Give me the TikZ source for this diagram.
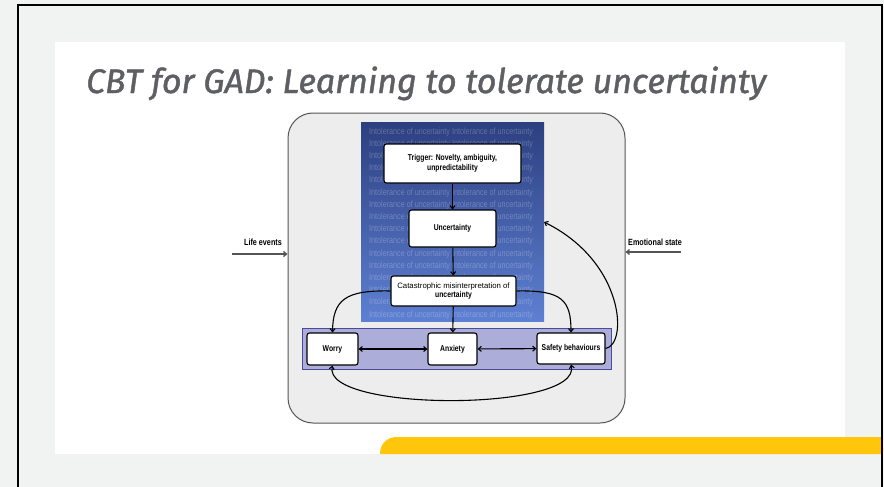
\documentclass[tikz,border=0pt]{standalone}
\usepackage{fontspec}
\setmainfont{Liberation Sans}
\newfontfamily\titlefont[FakeBold=1.3]{Fira Sans}
\newfontfamily\narrowfont[FakeStretch=0.8]{Liberation Sans}
\usetikzlibrary{arrows.meta}

\definecolor{slidebg}{HTML}{F1F2F2}
\definecolor{titlegray}{HTML}{5E5F63}
\definecolor{bandyellow}{HTML}{FFC60B}
\definecolor{panelfill}{HTML}{EDEDED}
\definecolor{paneledge}{HTML}{555555}
\definecolor{bluetop}{HTML}{2C3F80}
\definecolor{bluebottom}{HTML}{5E80D2}
\definecolor{bandfill}{HTML}{ADADDA}
\definecolor{bandedge}{HTML}{4A4A9C}

\tikzset{
  stepbox/.style={draw=black, line width=1.1pt, fill=white, rounded corners=2.5pt,
    align=center, inner sep=1pt, font=\narrowfont\fontsize{8.5}{9.5}\selectfont\bfseries},
  flow/.style={draw=black, line width=1.1pt, -{Straight Barb[length=3pt,width=5pt]}},
  twoway/.style={draw=black, line width=1.1pt, {Straight Barb[length=3pt,width=5pt]}-{Straight Barb[length=3pt,width=5pt]}},
  inflow/.style={draw=paneledge, line width=1.3pt, -{Straight Barb[length=3pt,width=5pt]}},
  sidelabel/.style={font=\narrowfont\fontsize{9}{10}\selectfont\bfseries, inner sep=0pt},
  bgword/.style={anchor=base west, inner sep=0pt, text=white, text opacity=0.25,
    font=\narrowfont\fontsize{9}{10}\selectfont}
}

\begin{document}
\begin{tikzpicture}[x=1pt,y=-1pt]
\useasboundingbox (0,0) rectangle (884,487);

% slide background, white content area and yellow footer band
\fill[slidebg] (0,0) rectangle (884,487);
\fill[white] (55,42) rectangle (845,454);
\fill[bandyellow] (380,454) .. controls (380,444) and (387,437) .. (397,437)
  -- (881,437) -- (881,454) -- cycle;
\draw[black, line width=2.5pt] (18,487) -- (18,5) -- (882,5) -- (882,487);

% title
\node[anchor=base west, inner sep=0pt, text=titlegray,
  font=\titlefont\itshape\fontsize{34}{38}\selectfont] (title) at (86,93)
  {CBT for GAD: Learning to tolerate uncertainty};

% outer rounded panel
\node[draw=paneledge, fill=panelfill, line width=1pt, rounded corners=25pt,
  minimum width=337pt, minimum height=310pt, inner sep=0pt] (frame) at (456.5,268) {};

% blue field with repeated background wording
\shade[top color=bluetop, bottom color=bluebottom] (361,122) rectangle (544,321);
\begin{scope}
  \clip (361,122) rectangle (544,321);
  \foreach \i in {0,...,15}
    \node[bgword] (bg\i) at (369,134+12.2*\i)
      {Intolerance of uncertainty Intolerance of uncertainty};
\end{scope}
\coordinate (iuedge) at (544,222);

% lower band holding the three reactions
\draw[fill=bandfill, draw=bandedge, line width=1pt] (302,328) rectangle (611,369);

% boxes
\node[stepbox, minimum width=137pt, minimum height=39pt] (trigger) at (452.5,163.5)
  {Trigger: Novelty, ambiguity,\\unpredictability};
\node[stepbox, minimum width=87pt, minimum height=37pt] (unc) at (452.5,228.5)
  {Uncertainty};
\node[stepbox, minimum width=125pt, minimum height=30pt] (cat) at (453.5,291)
  {{\rmfamily\mdseries\fontsize{7.8}{9.5}\selectfont Catastrophic misinterpretation of}\\uncertainty};
\node[stepbox, minimum width=51pt, minimum height=32pt] (worry) at (332.5,349) {Worry};
\node[stepbox, minimum width=49pt, minimum height=32pt] (anx) at (452.5,349) {Anxiety};
\node[stepbox, minimum width=68pt, minimum height=31pt] (safe) at (571,348.5) {Safety behaviours};

% connectors
\draw[flow] (trigger) -- (unc);
\draw[flow] (unc) -- (cat);
\draw[flow] (cat) -- (anx);
\draw[flow] (cat.west) .. controls (345,290) and (333,300) .. (worry.north);
\draw[flow] (cat.east) .. controls (562,290) and (571,300) .. (safe.north);
\draw[twoway] (worry) -- (anx);
\draw[twoway] (anx) -- (safe);
\draw[twoway] (worry.south) .. controls (322,412) and (582,412) .. (safe.south);
\draw[flow] (safe.east) .. controls (628,345) and (625,262) .. (iuedge);

% outside influences
\coordinate (lifestart) at (232,254);
\coordinate (emostart) at (681,252);
\draw[inflow] (lifestart) -- (lifestart -| frame.west);
\draw[inflow] (emostart) -- (emostart -| frame.east);
\node[sidelabel, anchor=base] (lifelabel) at (263,245) {Life events};
\node[sidelabel, anchor=base] (emolabel) at (655,245) {Emotional state};
\end{tikzpicture}
\end{document}
